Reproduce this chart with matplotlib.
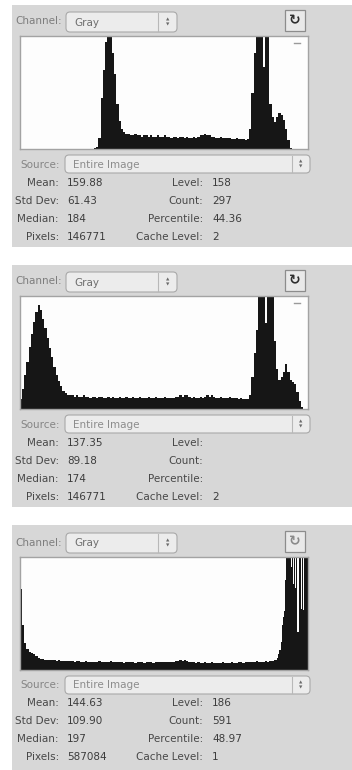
import numpy as np
import matplotlib.pyplot as plt
from matplotlib.patches import Rectangle, FancyBboxPatch

# Histogram heights, in percent of the plot box height (values above 100 are clipped)
# 2-level bins over 0..255
hist_a = ([0] * 33 +
          [1, 2, 10, 45, 70, 95, 130, 130, 85, 66, 40, 25, 18, 15, 13] +
          [13, 12, 12, 13, 12, 12, 11, 12, 12, 11, 12, 11, 11, 12, 11, 11, 12, 11, 11, 10,
           11, 11, 10, 11] +
          [11, 10, 11, 10, 10, 11, 10, 11, 12, 12, 13, 12, 12, 11, 11, 10, 10, 11, 10, 10,
           10, 10] +
          [9, 9, 10, 9, 9, 9, 8, 9] +
          [18, 50, 85, 130, 130, 130, 73, 130, 130, 40, 28, 24, 28, 32, 30, 26, 18, 8, 1] +
          [0] * 7)

hist_b = ([9, 18, 30, 42, 55, 66, 77, 86, 92, 88, 80, 72, 63, 54, 46, 37, 30, 25, 20, 16,
           14, 12] +
          [12, 12, 11, 12, 11, 11, 12, 11, 11, 10, 11, 11, 10, 11, 11, 10, 10, 11, 10, 11,
           10, 10, 11, 10, 10, 11, 10, 10, 11] +
          [10, 10, 11, 10, 10, 10, 11, 10, 10, 11, 10, 10, 10, 11, 10, 10, 10, 10, 11, 11,
           12, 11, 12, 12, 11, 10, 11, 10, 10, 11, 10, 11, 12, 11, 12, 11, 10, 10, 11, 10,
           10, 10, 11, 10, 10, 10, 9, 10, 9, 9, 9] +
          [12, 28, 50, 70, 130, 130, 130, 76, 130, 130, 130, 60, 35, 26, 28, 33, 40, 33, 26,
           24, 22, 15, 7, 2] +
          [0, 0])

# third image: 2-level bins up to 227, then single levels 228..255 (combed highlights)
hist_c_coarse = ([72, 40, 24, 19, 16, 15, 14, 12, 11, 10, 10, 9, 9] +
                 [9, 9, 9, 8, 9, 8, 8, 8, 8, 8,
                  8, 7, 8, 8, 7, 7, 8, 7, 7, 7,
                  7, 7, 8, 7, 7, 7, 7, 8, 7, 7,
                  7, 7, 7, 6, 7, 7, 7, 7, 6, 7,
                  7, 7, 6, 7, 7, 7, 6, 7, 7, 7,
                  7, 7, 7, 7, 7, 7, 8, 8, 9, 8,
                  9, 8, 7, 7, 7, 6, 7, 6, 6, 7,
                  6, 6, 7, 6, 6, 6, 6, 7, 6, 6,
                  6, 7, 6, 6, 7, 7, 6, 7, 7, 7,
                  7, 7, 8, 7, 7, 7, 8, 7, 8, 8, 9])
hist_c_fine = [9, 11, 14, 18, 25, 40, 47, 52, 80, 130, 130, 130, 130, 91, 130, 76, 130, 73,
               130, 34, 130, 130, 54, 130, 53, 130, 130, 130]

edges_2 = np.arange(0, 257, 2)
edges_c = np.concatenate([np.arange(0, 229, 2), np.arange(229, 257)])
hist_c = hist_c_coarse + hist_c_fine

left_labels = ['Mean:', 'Std Dev:', 'Median:', 'Pixels:']
right_labels = ['Level:', 'Count:', 'Percentile:', 'Cache Level:']
left_values = [['159.88', '61.43', '184', '146771'],
               ['137.35', '89.18', '174', '146771'],
               ['144.63', '109.90', '197', '587084']]
right_values = [['158', '297', '44.36', '2'],
                ['', '', '', '2'],
                ['186', '591', '48.97', '1']]

W, H = 352, 770
FS = 7.5

fig = plt.figure(figsize=(3.52, 7.70), dpi=100)
fig.patch.set_facecolor('white')
bg = fig.add_axes([0, 0, 1, 1])
bg.set_xlim(0, W)
bg.set_ylim(H, 0)
bg.axis('off')


def px_axes(x0, y0, x1, y1):
    return fig.add_axes([x0 / W, 1 - y1 / H, (x1 - x0) / W, (y1 - y0) / H])


def popup(x, y, w, h, text, sep_x, text_color):
    bg.add_patch(FancyBboxPatch((x, y), w, h, boxstyle='round,pad=0,rounding_size=4',
                                fc='#ececec', ec='#a9a9a9', lw=0.8))
    bg.plot([sep_x, sep_x], [y + 1, y + h - 1], color='#b8b8b8', lw=0.8)
    ax_x = (sep_x + x + w) / 2
    bg.text(ax_x, y + h / 2 - 2.5, '▲', fontsize=3.2, color='#6a6a6a', ha='center', va='center')
    bg.text(ax_x, y + h / 2 + 2.8, '▼', fontsize=3.2, color='#6a6a6a', ha='center', va='center')
    bg.text(x + 8, y + h / 2 + 0.5, text, fontsize=FS, color=text_color, ha='left', va='center')


def panel(top, bottom, dy, counts, edges, lv, rv, icon_color, dash):
    bg.add_patch(Rectangle((12, top), W - 12, bottom - top, color='#d7d7d7', lw=0))

    bg.text(62, 21.5 + dy, 'Channel:', fontsize=FS, color='#7d7d7d', ha='right', va='center')
    popup(66, 12 + dy, 111, 20, 'Gray', 158, '#6e6e6e')

    bg.add_patch(Rectangle((285, 10 + dy), 20, 21, fc='#e9e9e9', ec='#8c8c8c', lw=0.9))
    bg.text(295, 20.5 + dy, '↻', fontsize=10, fontweight='bold', color=icon_color,
            ha='center', va='center')

    ax = px_axes(19.5, 36 + dy, 307.5, 149 + dy)
    ax.set_facecolor('#fdfdfd')
    ax.stairs(counts, edges, fill=True, color='#161616', baseline=0)
    ax.set_xlim(0, 256)
    ax.set_ylim(0, 100)
    ax.set_xticks([])
    ax.set_yticks([])
    for s in ax.spines.values():
        s.set_color('#a3a3a3')
        s.set_linewidth(1.0)
    if dash:
        ax.plot([244, 249], [94, 94], color='#9a9a9a', lw=1.0)

    bg.text(60, 164.5 + dy, 'Source:', fontsize=FS, color='#858585', ha='right', va='center')
    popup(65, 155 + dy, 245, 18, 'Entire Image', 292, '#8c8c8c')

    for i in range(4):
        y = 182.5 + 18 * i + dy
        bg.text(59, y, left_labels[i], fontsize=FS, color='#474747', ha='right', va='center')
        bg.text(67, y, lv[i], fontsize=FS, color='#3c3c3c', ha='left', va='center')
        bg.text(203, y, right_labels[i], fontsize=FS, color='#474747', ha='right', va='center')
        bg.text(212, y, rv[i], fontsize=FS, color='#3c3c3c', ha='left', va='center')


panel(5, 247, 0, hist_a, edges_2, left_values[0], right_values[0], '#2e2e2e', True)
panel(265, 507, 260, hist_b, edges_2, left_values[1], right_values[1], '#2e2e2e', True)
panel(525, 770, 521, hist_c, edges_c, left_values[2], right_values[2], '#8a8a8a', False)

fig.savefig('out.png', dpi=100, facecolor='white')
